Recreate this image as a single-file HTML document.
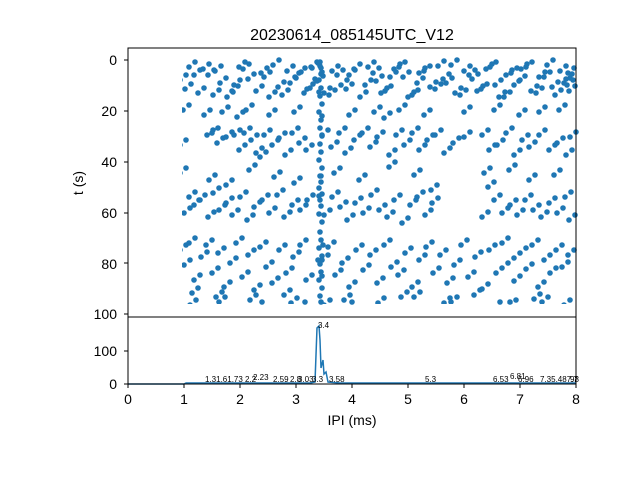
<!DOCTYPE html><html><head><meta charset="utf-8"><style>body{margin:0;background:#fff}svg text{font-family:"Liberation Sans","DejaVu Sans",sans-serif}</style></head><body>
<svg width="640" height="480" xmlns="http://www.w3.org/2000/svg">
<defs><clipPath id="c"><rect x="182" y="52" width="397" height="252"/></clipPath></defs>
<rect width="640" height="480" fill="#fff"/>
<text x="352" y="40" font-size="16" text-anchor="middle">20230614_085145UTC_V12</text>
<g fill="none" stroke="#1f77b4" stroke-width="5.6" stroke-linecap="round">
<g id="d">
<path d="M186 75h0M195 62h0M204 88h0M214 70h0M221 66h0M233 92h0M240 80h0M249 64h0M262 86h0M270 72h0M279 60h0M288 90h0M296 78h0M305 68h0M313 84h0M318 63h0M321 74h0M330 88h0M338 66h0M347 80h0M355 70h0M366 92h0M374 62h0M382 76h0M391 86h0M400 64h0M409 72h0M418 90h0M425 68h0M436 82h0M444 61h0M452 78h0M461 88h0M470 66h0M478 74h0M487 84h0M496 62h0M505 92h0M512 70h0M520 80h0M527 64h0M537 86h0M545 72h0M553 60h0M561 90h0M570 78h0M574 68h0"/>
<path d="M191 84h0M200 70h0M209 64h0M219 90h0M226 78h0M238 86h0M245 62h0M254 74h0M267 68h0M275 92h0M284 82h0M293 66h0M301 72h0M310 88h0M317 62h0M323 76h0M335 90h0M343 70h0M352 84h0M360 64h0M371 80h0M379 68h0M387 88h0M396 72h0M405 62h0M414 92h0M423 78h0M430 66h0M441 84h0M449 74h0M457 60h0M466 90h0M475 70h0M483 86h0M492 64h0M501 80h0M510 92h0M517 68h0M525 76h0M532 62h0M542 88h0M550 72h0M558 82h0M566 66h0M572 74h0M575 86h0M573 80h0"/>
<path d="M189 105h0M210 110h0M228 107h0M252 105h0M275 110h0M300 107h0M355 110h0M380 107h0M405 105h0M430 110h0M470 107h0M500 105h0M525 110h0M545 107h0M565 105h0M243 112h0M390 113h0"/>
<path d="M186 140h0M213 130h0M218 128h0M232 132h0M240 130h0M245 145h0M250 128h0M257 135h0M262 148h0M270 130h0M278 140h0M285 133h0M291 150h0M298 128h0M305 138h0M312 145h0M328 130h0M337 142h0M345 128h0M351 148h0M360 135h0M368 128h0M376 142h0M383 132h0M395 150h0M402 130h0M410 140h0M418 128h0M425 145h0M433 135h0M441 130h0M450 148h0M459 138h0M470 132h0M488 130h0M495 145h0M503 140h0M512 128h0M520 150h0M528 135h0M535 142h0M545 130h0M555 145h0M563 138h0M572 150h0M576 132h0M223 138h0M266 152h0"/>
<path d="M186 168h0M215 175h0M255 165h0M280 172h0M300 178h0M340 168h0M365 175h0M395 162h0M420 170h0M490 168h0M515 165h0M535 175h0M560 170h0M232 180h0M437 185h0"/>
<path d="M190 208h0M195 192h0M200 200h0M205 195h0M214 212h0M219 188h0M225 205h0M232 198h0M238 210h0M246 192h0M253 215h0M260 202h0M268 195h0M275 208h0M283 190h0M290 212h0M298 200h0M306 205h0M313 195h0M330 210h0M338 192h0M346 202h0M353 215h0M361 198h0M369 208h0M377 190h0M385 205h0M393 212h0M400 195h0M408 218h0M416 200h0M423 192h0M431 210h0M438 198h0M488 212h0M494 182h0M500 195h0M508 208h0M516 200h0M523 210h0M531 195h0M539 205h0M547 212h0M555 198h0M563 208h0M571 192h0M575 215h0"/>
<path d="M186 245h0M190 260h0M195 238h0M200 275h0M207 252h0M212 240h0M218 268h0M224 248h0M230 282h0M236 258h0M242 238h0M248 272h0M254 250h0M260 285h0M266 242h0M272 262h0M278 278h0M285 245h0M292 268h0M299 252h0M306 240h0M312 275h0M328 255h0M334 242h0M341 270h0M348 258h0M355 282h0M362 245h0M369 265h0M376 250h0M383 278h0M390 240h0M397 262h0M404 270h0M411 248h0M418 282h0M425 255h0M432 242h0M439 268h0M446 250h0M453 278h0M460 260h0M467 240h0M474 272h0M481 252h0M488 284h0M495 245h0M502 268h0M508 238h0M514 258h0M520 276h0M526 248h0M532 264h0M538 240h0M544 282h0M550 255h0M556 268h0M562 245h0M568 262h0M574 250h0M198 288h0M222 292h0M256 295h0M290 290h0M350 295h0M420 292h0M480 290h0M540 294h0"/>
<path d="M196 300h0M225 297h0M262 302h0M297 298h0M305 302h0M330 300h0M352 302h0M384 298h0M407 292h0M450 298h0M457 297h0M500 302h0M510 302h0M516 300h0M548 297h0M570 300h0"/>
</g>
<g clip-path="url(#c)"><use href="#d" transform="translate(-6,5)"/></g>
<path d="M320 62h0M320 66h0M322 72h0M319 80h0M321 88h0M320 96h0M322 104h0M319 112h0M321 120h0M320 128h0M322 136h0M320 144h0M321 152h0M319 160h0M322 168h0M320 176h0M321 182h0M319 188h0M322 194h0M320 200h0M321 206h0M319 214h0M322 222h0M320 232h0M321 240h0M319 248h0M322 256h0M320 264h0M321 272h0M319 280h0M322 288h0M320 296h0M321 302h0M318 260h0M323 245h0M321 68h0M319 92h0M322 116h0M321 176h0M319 196h0M322 276h0"/>
</g>
<path d="M128 384L184 384L186 383L310 383L315 382L317 328L319 326L320 340L321 368L323 360L324 374L326 372L328 382L340 383L576 383" fill="none" stroke="#1f77b4" stroke-width="1.5"/>
<rect x="128" y="48" width="448" height="269" fill="none" stroke="#000"/>
<rect x="128" y="317" width="448" height="67" fill="none" stroke="#000"/>
<g font-size="14" text-anchor="end">
<text x="117" y="65">0</text><text x="117" y="116">20</text><text x="117" y="167">40</text><text x="117" y="218">60</text><text x="117" y="269">80</text><text x="117" y="319">100</text>
<text x="117" y="356">100</text><text x="117" y="389">0</text>
</g>
<g stroke="#000"><path d="M124 60h4M124 111h4M124 162h4M124 213h4M124 263h4M124 314h4M124 351h4M124 384h4M128 384v4M184 384v4M240 384v4M296 384v4M352 384v4M408 384v4M464 384v4M520 384v4M576 384v4"/></g>
<g font-size="14" text-anchor="middle">
<text x="128" y="404">0</text><text x="184" y="404">1</text><text x="240" y="404">2</text><text x="296" y="404">3</text><text x="352" y="404">4</text><text x="408" y="404">5</text><text x="464" y="404">6</text><text x="520" y="404">7</text><text x="576" y="404">8</text>
</g>
<text x="352" y="425" font-size="14" text-anchor="middle">IPI (ms)</text>
<text x="83" y="183" font-size="14" text-anchor="middle" transform="rotate(-90 83 183)">t (s)</text>
<g font-size="8">
<text x="318" y="328">3.4</text>
<text x="205" y="382">1.31.61.73</text><text x="245" y="382">2.2</text><text x="253" y="380">2.23</text>
<text x="273" y="382">2.59</text><text x="290" y="382">2.8</text><text x="298" y="382">3.03</text><text x="312" y="382">3.3</text><text x="329" y="382">3.58</text>
<text x="425" y="382">5.3</text><text x="493" y="382">6.53</text><text x="510" y="379">6.81</text><text x="518" y="382">6.96</text><text x="540" y="382">7.35.487.7</text><text x="570" y="382">98</text>
</g>
</svg></body></html>
